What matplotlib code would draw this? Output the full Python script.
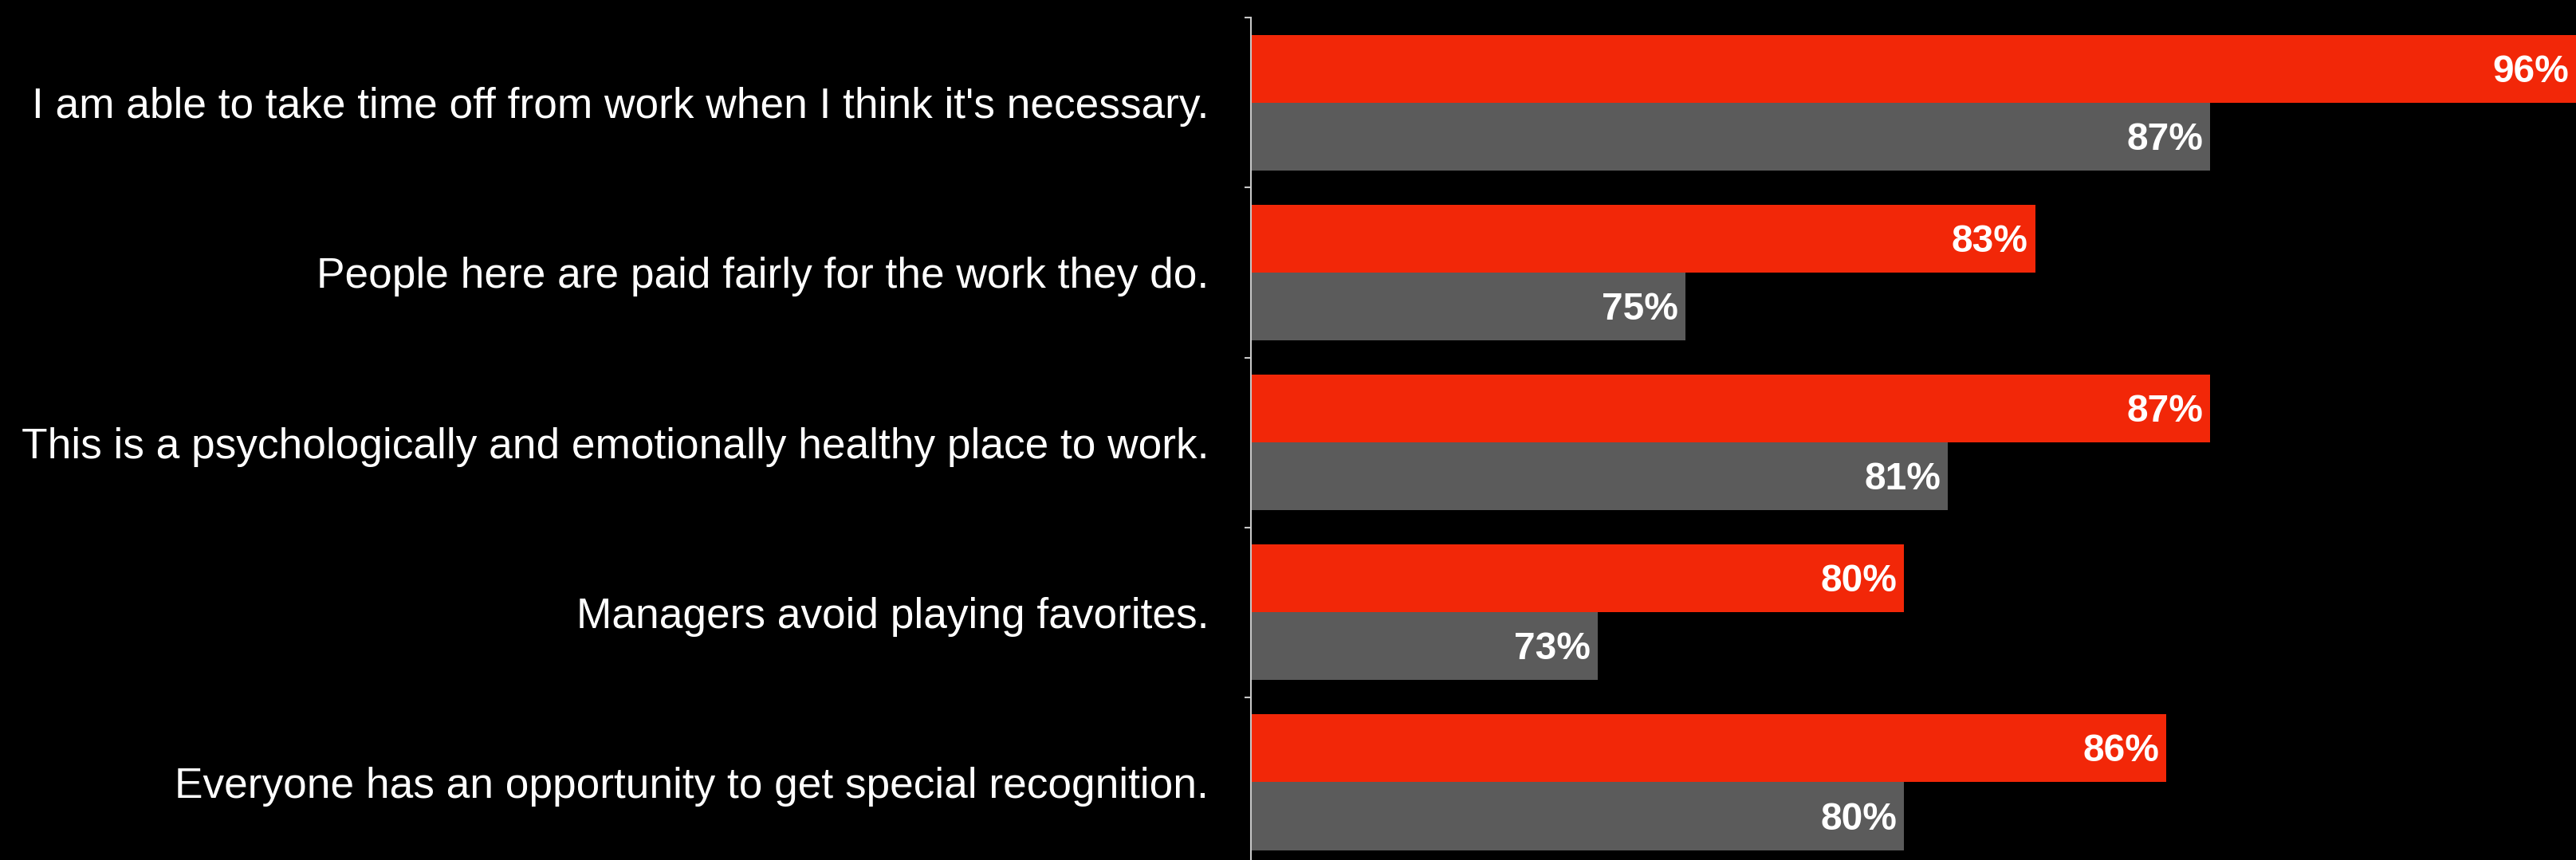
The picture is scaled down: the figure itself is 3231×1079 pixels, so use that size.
import matplotlib
matplotlib.use("Agg")
import matplotlib.pyplot as plt
import numpy as np

statements = [
    "I am able to take time off from work when I think it's necessary.",
    "People here are paid fairly for the work they do.",
    "This is a psychologically and emotionally healthy place to work.",
    "Managers avoid playing favorites.",
    "Everyone has an opportunity to get special recognition.",
]
company = [96, 83, 87, 80, 86]
benchmark = [87, 75, 81, 73, 80]

RED = "#F22708"
GREY = "#5B5B5B"
XMIN, XMAX = 65.07, 95.36

plt.rcParams['font.family'] = ['Liberation Sans', 'DejaVu Sans']

fig = plt.figure(figsize=(32.31, 10.79), dpi=100, facecolor="black")
ax = fig.add_axes([0.4856, -0.0082, 0.5144, 0.9875])
ax.set_facecolor("black")

y = np.arange(len(statements))
h = 0.4
ax.barh(y - h / 2, company, height=h, color=RED, left=0)
ax.barh(y + h / 2, benchmark, height=h, color=GREY, left=0)

ax.set_xlim(XMIN, XMAX)
ax.set_ylim(len(statements) - 0.5, -0.5)

# value labels inside the bar ends, kept inside the visible range
for vals, offs in ((company, -h / 2), (benchmark, h / 2)):
    for i, v in enumerate(vals):
        xpos = min(v, XMAX)
        ax.annotate(f"{v}%", (xpos, i + offs), xytext=(-6.5, -3),
                    textcoords="offset points", ha="right", va="center",
                    color="white", fontsize=34.5, fontweight="bold")

ax.set_yticks(y)
ax.set_yticklabels(statements, fontsize=38.3, color="white")
ax.tick_params(axis="y", which="major", length=0, pad=38)
ax.set_yticks(np.arange(len(statements) + 1) - 0.5, minor=True)
ax.tick_params(axis="y", which="minor", length=6, width=1.5, color="#C8C8C8", direction="out")
ax.set_xticks([])

for side in ("top", "right", "bottom"):
    ax.spines[side].set_visible(False)
ax.spines["left"].set_color("#C8C8C8")
ax.spines["left"].set_linewidth(1.5)

fig.savefig("out.png", dpi=100, facecolor="black")
